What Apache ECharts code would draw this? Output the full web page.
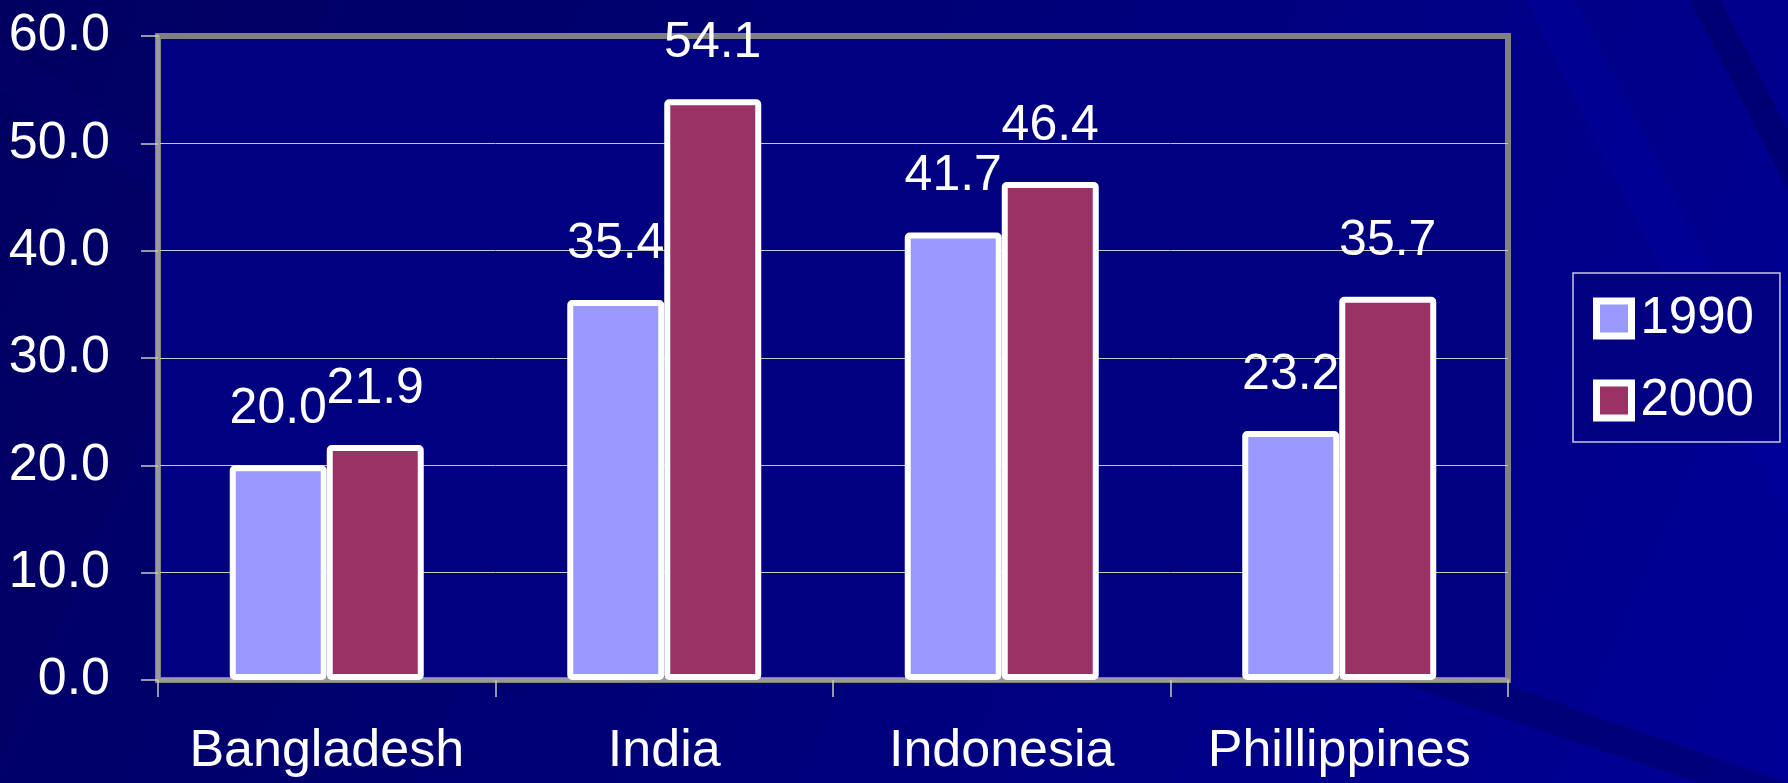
<!DOCTYPE html>
<html>
<head>
<meta charset="utf-8">
<script src="https://cdn.jsdelivr.net/npm/echarts@6/dist/echarts.min.js"></script>
<style>
html,body{margin:0;padding:0;background:#000070;}
#chart{width:1788px;height:783px;}
</style>
</head>
<body>
<div id="chart"></div>
<script>
var categories = ['Bangladesh', 'India', 'Indonesia', 'Phillippines'];
var seriesNames = ['1990', '2000'];
var values1990 = [20.0, 35.4, 41.7, 23.2];
var values2000 = [21.9, 54.1, 46.4, 35.7];
var yTicks = [0, 10, 20, 30, 40, 50, 60];

var FONT = "'Liberation Sans', Arial, sans-serif";
var chart = echarts.init(document.getElementById('chart'), null, {renderer: 'canvas'});

function labelCfg() {
  return {
    show: true,
    position: 'top',
    distance: 31,
    color: '#ffffff',
    fontSize: 50,
    fontFamily: FONT,
    formatter: function (p) { return p.value.toFixed(1); }
  };
}

var option = {
  backgroundColor: {
    type: 'linear', x: 0, y: 0, x2: 1, y2: 1,
    colorStops: [
      {offset: 0, color: '#000060'},
      {offset: 0.4, color: '#000074'},
      {offset: 0.75, color: '#000088'},
      {offset: 1, color: '#000096'}
    ]
  },
  graphic: [
    {type: 'polygon', silent: true, z: -10, shape: {points: [[1525, 0], [1575, 0], [1788, 420], [1788, 520]]}, style: {fill: 'rgba(0,0,170,0.3)'}},
    {type: 'polygon', silent: true, z: -10, shape: {points: [[1690, 0], [1720, 0], [1788, 130], [1788, 190]]}, style: {fill: 'rgba(0,0,60,0.3)'}},
    {type: 'polygon', silent: true, z: -10, shape: {points: [[1400, 683], [1500, 683], [1788, 783], [1700, 783]]}, style: {fill: 'rgba(0,0,70,0.3)'}},
    {type: 'polygon', silent: true, z: -10, shape: {points: [[0, 40], [0, 90], [160, 200], [160, 150]]}, style: {fill: 'rgba(0,0,120,0.2)'}}
  ],
  textStyle: {fontFamily: FONT},
  legend: {
    data: seriesNames,
    orient: 'vertical',
    left: 1573,
    top: 273,
    padding: [20, 26, 16, 20],
    itemWidth: 35,
    itemHeight: 35,
    itemGap: 31,
    icon: 'rect',
    backgroundColor: '#000080',
    borderColor: '#c8c8d8',
    borderWidth: 1.5,
    itemStyle: {borderColor: '#ffffff', borderWidth: 7},
    textStyle: {color: '#ffffff', fontSize: 51, fontFamily: FONT, padding: [0, 0, 0, 4]}
  },
  grid: {
    left: 158, top: 36, right: 280, bottom: 103,
    show: true,
    backgroundColor: '#000080',
    borderColor: '#808080',
    borderWidth: 6
  },
  xAxis: {
    type: 'category',
    data: categories,
    axisLine: {show: true, lineStyle: {color: '#9a9a9a', width: 4}},
    axisTick: {show: true, interval: 0, length: 17, lineStyle: {color: '#c8c8c8', width: 1.5}},
    axisLabel: {color: '#ffffff', fontSize: 52, fontFamily: FONT, margin: 46, interval: 0},
    splitLine: {show: false}
  },
  yAxis: {
    type: 'value',
    min: yTicks[0],
    max: yTicks[yTicks.length - 1],
    interval: 10,
    axisLine: {show: true, lineStyle: {color: '#9a9a9a', width: 4}},
    axisTick: {show: true, length: 17, lineStyle: {color: '#c8c8c8', width: 1.5}},
    axisLabel: {
      color: '#ffffff', fontSize: 52, fontFamily: FONT, margin: 48,
      padding: [0, 0, 8, 0],
      formatter: function (v) { return v.toFixed(1); }
    },
    splitLine: {show: true, lineStyle: {color: ['#c8c8c8', '#c8c8c8', '#c8c8c8', '#c8c8c8', '#c8c8c8', '#c8c8c8', '#808080'], width: 1}}
  },
  series: [
    {
      name: seriesNames[0],
      type: 'bar',
      data: values1990,
      barWidth: 97,
      barGap: '0%',
      itemStyle: {color: '#9999ff', borderColor: '#ffffff', borderWidth: 6, borderRadius: 2},
      label: labelCfg()
    },
    {
      name: seriesNames[1],
      type: 'bar',
      data: values2000,
      barWidth: 97,
      barGap: '0%',
      itemStyle: {color: '#993366', borderColor: '#ffffff', borderWidth: 6, borderRadius: 2},
      label: labelCfg()
    }
  ]
};
chart.setOption(option);
</script>
</body>
</html>
